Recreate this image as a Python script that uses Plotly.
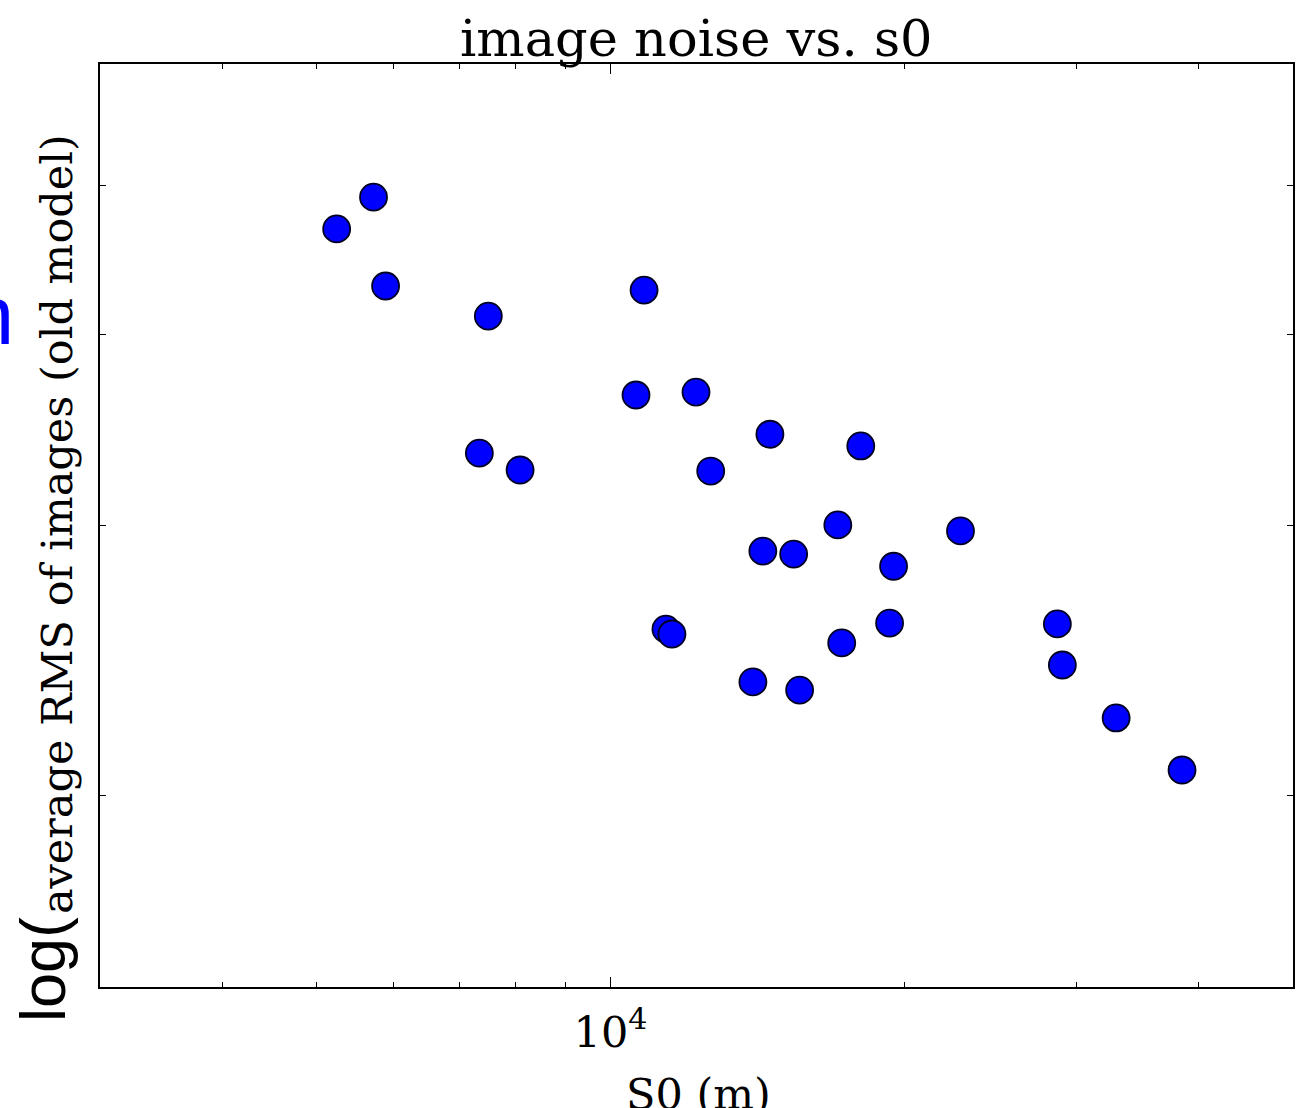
import plotly.graph_objects as go

# Data
s0_m = [5242, 5718, 5883, 7496, 10823, 10619, 12233, 7339, 8079, 14563,
        18043, 12665, 17092, 22827, 14322, 15402, 19494, 11396, 11558, 19311,
        17250, 28685, 29025, 13990, 15620, 32950, 38490]
avg_rms = [4.684, 4.913, 4.299, 4.109, 4.273, 3.650, 3.666, 3.345, 3.261, 3.441,
           3.381, 3.256, 3.003, 2.976, 2.887, 2.874, 2.822, 2.568, 2.549, 2.591,
           2.515, 2.588, 2.433, 2.372, 2.343, 2.247, 2.078]

x_major = [10000]
x_major_text = ["10<sup>4</sup>"]
x_minor = [4000, 5000, 6000, 7000, 8000, 9000, 20000, 30000, 40000]
y_minor = [2, 3, 4, 5]

title_text = "image noise vs. s0"
x_title = "S0 (m)"
y_title_prefix = "log("
y_title_main = "average RMS of images (old model)"

SERIF = "DejaVu Serif"
SANS = "Liberation Sans"

fig = go.Figure()
fig.add_trace(go.Scatter(
    x=s0_m, y=avg_rms, mode="markers",
    marker=dict(size=27, color="#0000ff", line=dict(color="#000022", width=1.8)),
    showlegend=False, hoverinfo="x+y",
))

fig.update_layout(
    width=1297, height=1108,
    margin=dict(l=100, r=2, t=64, b=121),
    paper_bgcolor="white", plot_bgcolor="white",
    font=dict(family=SERIF, color="black"),
)

fig.update_xaxes(
    type="log", range=[3.4771, 4.699],
    tickvals=x_major, ticktext=x_major_text,
    ticks="inside", ticklen=10, tickwidth=1.3, tickcolor="black",
    minor=dict(tickvals=x_minor, ticks="inside", ticklen=5, tickwidth=1.3, tickcolor="black"),
    showline=True, linecolor="black", linewidth=2, mirror="allticks",
    showgrid=False, zeroline=False,
    tickfont=dict(family=SERIF, size=43, color="black"),
    ticklabelstandoff=6,
)
fig.update_yaxes(
    type="log", range=[0.1761, 0.7782],
    tickvals=y_minor, showticklabels=False,
    ticks="inside", ticklen=6, tickwidth=1.3, tickcolor="black",
    showline=True, linecolor="black", linewidth=2, mirror="allticks",
    showgrid=False, zeroline=False,
)

# Title
fig.add_annotation(
    text=title_text, xref="paper", yref="paper", x=0.5002, y=1.0,
    xanchor="center", yanchor="bottom", yshift=-6, showarrow=False,
    font=dict(family=SERIF, size=51, color="black"),
)
# X title
fig.add_annotation(
    text=x_title, xref="paper", yref="paper", x=0.5016, y=0, yshift=-80,
    xanchor="center", yanchor="top", showarrow=False,
    font=dict(family=SERIF, size=43, color="black"),
)
# Y title: large sans "log(" followed by serif text on a lower baseline
fig.add_annotation(
    text=y_title_prefix, xref="paper", yref="paper", x=-0.0477, y=0.0184,
    xanchor="center", yanchor="middle", textangle=-90, showarrow=False,
    font=dict(family=SANS, size=63, color="black"),
)
fig.add_annotation(
    text=y_title_main, xref="paper", yref="paper", x=-0.036, y=0.5016,
    xanchor="center", yanchor="middle", textangle=-90, showarrow=False,
    font=dict(family=SERIF, size=43, color="black"),
)
# Partially visible blue glyph at the left edge
fig.add_annotation(
    text="n", xref="paper", yref="paper", x=-0.0703, y=0.727,
    xanchor="right", yanchor="middle", showarrow=False,
    font=dict(family=SANS, size=83, color="#0000ff"),
)

fig.write_html("out.html", config={"displayModeBar": False},
               post_script="document.body.style.margin='0';")
